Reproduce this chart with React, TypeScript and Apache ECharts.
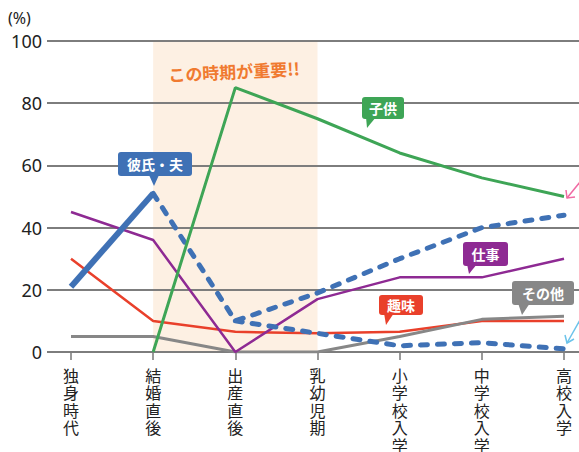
import React, { useEffect, useRef } from "react";
import * as echarts from "echarts";

const categories = ["独身時代", "結婚直後", "出産直後", "乳幼児期", "小学校入学", "中学校入学", "高校入学"];
const yTicks = [0, 20, 40, 60, 80, 100];
const kodomo = [null, 0, 85, 75, 64, 56, 50];
const shigoto = [45, 36, 0, 17, 24, 24, 30];
const shumi = [30, 10, 6.5, 6, 6.5, 10, 10];
const sonota = [5, 5, 0, 0, 5, 10.5, 11.5];
const kareshiSolid = [21, 51, null, null, null, null, null];
const kareshiDashUp = [null, 51, 10, 19, 30, 40, 44];
const kareshiDashLow = [null, null, 10, 6, 2, 3, 1];

const FONT = "'Noto Sans CJK JP', 'Noto Sans', sans-serif";
const Z = 100;

function callout(x: number, y: number, w: number, h: number, text: string, color: string, pointer: number[][]) {
  return {
    type: "group",
    z: Z,
    children: [
      { type: "polygon", z: Z, shape: { points: pointer }, style: { fill: color } },
      { type: "rect", z: Z, shape: { x, y, width: w, height: h, r: 3 }, style: { fill: color } },
      {
        type: "text",
        z: Z + 1,
        x: x + w / 2,
        y: y + h / 2,
        style: { text, fill: "#fff", font: `bold 14px ${FONT}`, align: "center", verticalAlign: "middle" },
      },
    ],
  };
}

export default function App() {
  const ref = useRef<HTMLDivElement>(null);
  useEffect(() => {
    if (!ref.current) return;
    const chart = echarts.init(ref.current, null, { renderer: "svg" });
    const lineBase = { type: "line", xAxisIndex: 1, yAxisIndex: 1, showSymbol: false, symbol: "none", z: 3 };
    chart.setOption({
      animation: false,
      grid: [
        { left: 47, right: 0, top: 41, bottom: 100, outerBoundsMode: "none", containLabel: false },
        { left: 71, right: 15, top: 41, bottom: 100, outerBoundsMode: "none", containLabel: false },
      ],
      xAxis: [
        { type: "value", gridIndex: 0, min: 0, max: 1, show: false },
        {
          type: "category",
          gridIndex: 1,
          data: categories,
          boundaryGap: false,
          axisLine: { show: false },
          axisTick: { show: true, length: 8, lineStyle: { color: "#777", width: 1.5 } },
          axisLabel: {
            interval: 0,
            margin: 14,
            color: "#222",
            fontFamily: FONT,
            fontSize: 16,
            lineHeight: 17.5,
            verticalAlign: "top",
            formatter: (v: string) => v.split("").join("\n"),
          },
          splitLine: { show: false },
        },
      ],
      yAxis: [
        {
          type: "value",
          gridIndex: 0,
          min: 0,
          max: 100,
          interval: 20,
          z: 2,
          axisLine: { show: false },
          axisTick: { show: false },
          axisLabel: {
            margin: 5,
            color: "#222",
            fontFamily: "'Noto Sans', sans-serif",
            fontSize: 18,
            formatter: (v: number) => (yTicks.includes(v) ? String(v) : ""),
          },
          splitLine: { show: true, lineStyle: { color: "#7d7d7d", width: 1.8 } },
        },
        { type: "value", gridIndex: 1, min: 0, max: 100, show: false },
      ],
      series: [
        {
          ...lineBase,
          name: "shade",
          data: [],
          z: 1,
          markArea: {
            silent: true,
            z: 1,
            itemStyle: { color: "#fdf0e3" },
            data: [[{ xAxis: categories[1], yAxis: 0 }, { xAxis: categories[3], yAxis: 100 }]],
          },
        },
        { ...lineBase, name: "趣味", data: shumi, lineStyle: { color: "#e9402b", width: 2.5 } },
        { ...lineBase, name: "その他", data: sonota, lineStyle: { color: "#878787", width: 3 } },
        { ...lineBase, name: "仕事", data: shigoto, lineStyle: { color: "#8e2a93", width: 2.5 } },
        {
          ...lineBase,
          name: "彼氏・夫2",
          data: kareshiDashLow,
          lineStyle: { color: "#3f71b5", width: 5, type: [7, 10], cap: "round" },
        },
        {
          ...lineBase,
          name: "彼氏・夫1",
          data: kareshiDashUp,
          lineStyle: { color: "#3f71b5", width: 5, type: [7, 10], cap: "round" },
        },
        { ...lineBase, name: "子供", data: kodomo, lineStyle: { color: "#3ea556", width: 3 } },
        { ...lineBase, name: "彼氏・夫", data: kareshiSolid, lineStyle: { color: "#3f71b5", width: 6 } },
      ],
      graphic: [
        {
          type: "text",
          z: Z,
          left: 8,
          top: 10,
          style: { text: "(%)", fill: "#222", font: `16px 'Noto Sans', sans-serif` },
        },
        {
          type: "text",
          z: Z,
          x: 234,
          y: 71,
          rotation: 0.05,
          style: {
            text: "この時期が重要!!",
            fill: "#f07a30",
            font: `bold 17px ${FONT}`,
            align: "center",
            verticalAlign: "middle",
          },
        },
        callout(118, 152, 74, 24, "彼氏・夫", "#3f71b5", [[149, 175], [159, 175], [154, 186]]),
        callout(362, 97, 42, 22, "子供", "#3ea556", [[366, 117], [376, 117], [367, 128]]),
        callout(463, 242, 45, 24, "仕事", "#8e2a93", [[467, 264], [477, 264], [469, 274]]),
        callout(379, 295, 44, 20, "趣味", "#e9402b", [[384, 313], [394, 313], [386, 325]]),
        callout(512, 281, 62, 24, "その他", "#878787", [[518, 303], [530, 303], [522, 315]]),
        {
          type: "polyline",
          z: Z,
          shape: { points: [[580, 182], [567, 198]] },
          style: { stroke: "#f06aa3", lineWidth: 1.5, fill: "none" },
        },
        {
          type: "polyline",
          z: Z,
          shape: { points: [[566, 190], [567, 198], [575, 197]] },
          style: { stroke: "#f06aa3", lineWidth: 1.5, fill: "none" },
        },
        {
          type: "polyline",
          z: Z,
          shape: { points: [[580, 320], [567, 343]] },
          style: { stroke: "#6cc3ea", lineWidth: 1.5, fill: "none" },
        },
        {
          type: "polyline",
          z: Z,
          shape: { points: [[565, 335], [567, 343], [574, 339]] },
          style: { stroke: "#6cc3ea", lineWidth: 1.5, fill: "none" },
        },
      ],
    });
    return () => chart.dispose();
  }, []);
  return <div ref={ref} style={{ width: 579, height: 452, position: "absolute", left: 0, top: 0 }} />;
}
